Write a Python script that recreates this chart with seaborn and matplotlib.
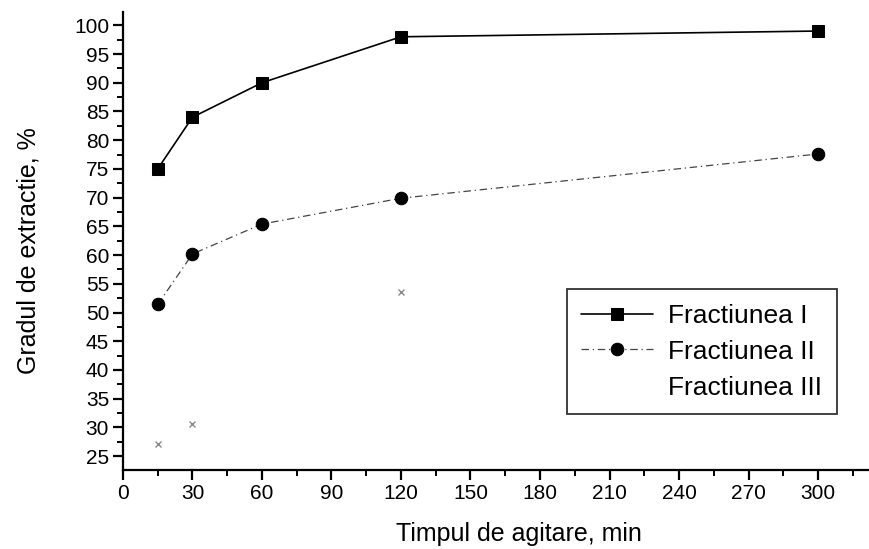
import matplotlib
matplotlib.use("Agg")
import matplotlib.pyplot as plt
from matplotlib.ticker import MultipleLocator
import seaborn as sns
import pandas as pd

# Extraction degree vs. stirring time for three fractions
time_min = [15, 30, 60, 120, 300]
frac_1 = [75.0, 84.0, 90.0, 98.0, 99.0]
frac_2 = [51.4, 60.2, 65.4, 69.9, 77.6]
time_3 = [15, 30, 120]
frac_3 = [27.1, 30.6, 53.6]

sns.set_theme(style="ticks")
plt.rcParams["font.family"] = ["Liberation Sans", "DejaVu Sans"]
plt.rcParams["text.color"] = "black"
plt.rcParams["axes.labelcolor"] = "black"

fig = plt.figure(figsize=(8.69, 5.49), dpi=100)
ax = fig.add_axes([0.1415, 0.144, 0.8585, 0.834])

df1 = pd.DataFrame({"t": time_min, "g": frac_1})
df2 = pd.DataFrame({"t": time_min, "g": frac_2})
df3 = pd.DataFrame({"t": time_3, "g": frac_3})

sns.lineplot(data=df1, x="t", y="g", ax=ax, color="black", lw=1.2,
             marker="s", markersize=9, markeredgecolor="black",
             label="Fractiunea I")
sns.lineplot(data=df2, x="t", y="g", ax=ax, color="#444444", lw=0.9,
             linestyle=(0, (6, 3, 1, 3)), marker="o", markersize=9,
             markerfacecolor="black", markeredgecolor="black",
             label="Fractiunea II")
sns.lineplot(data=df3, x="t", y="g", ax=ax, color="white", lw=0,
             marker="x", markersize=5, markeredgecolor="#8a8a8a",
             markeredgewidth=1.0, label="Fractiunea III")

ax.set_xlim(0, 322)
ax.set_ylim(22.6, 102.3)
ax.xaxis.set_major_locator(MultipleLocator(30))
ax.xaxis.set_minor_locator(MultipleLocator(15))
ax.yaxis.set_major_locator(MultipleLocator(5))
ax.yaxis.set_minor_locator(MultipleLocator(2.5))

for side in ("top", "right"):
    ax.spines[side].set_visible(False)
for side in ("left", "bottom"):
    ax.spines[side].set_linewidth(1.6)
    ax.spines[side].set_color("black")

ax.tick_params(which="major", direction="out", length=7, width=1.6,
               labelsize=15, colors="black", pad=3)
ax.tick_params(which="minor", direction="out", length=4, width=1.4,
               colors="black")

ax.set_xlabel("Timpul de agitare, min", fontsize=18)
ax.set_ylabel("Gradul de extractie, %", fontsize=18)
ax.xaxis.set_label_coords(0.531, -0.114)
ax.yaxis.set_label_coords(-0.111, 0.478)

leg = ax.legend(loc="lower right", bbox_to_anchor=(0.957, 0.122),
                borderaxespad=0, fontsize=19, frameon=True, fancybox=False,
                edgecolor="black", handlelength=2.7, borderpad=0.55,
                labelspacing=0.45, handletextpad=0.6)
leg.get_frame().set_linewidth(1.3)
for h in leg.legend_handles[2:]:
    h.set_visible(False)

fig.savefig("out.png", dpi=100)
